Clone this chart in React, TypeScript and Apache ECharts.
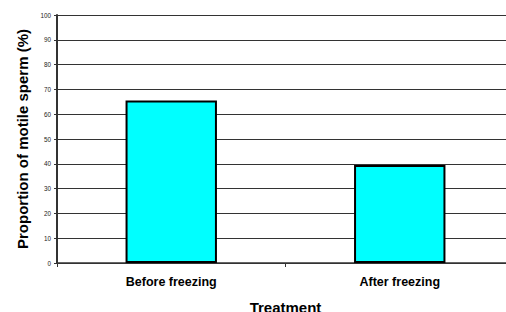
import React, { useEffect, useRef } from "react";
import * as echarts from "echarts";

const categories = ["Before freezing", "After freezing"];
const motileValues = [65.5, 39.5];
const yTicks = [0, 10, 20, 30, 40, 50, 60, 70, 80, 90, 100];

export default function App() {
  const ref = useRef<HTMLDivElement>(null);
  useEffect(() => {
    const chart = echarts.init(ref.current!, null, { renderer: "svg" });
    chart.setOption({
      animation: false,
      textStyle: { fontFamily: "Liberation Sans, Arial, sans-serif" },
      grid: { left: 57, right: -8, top: 15, bottom: 49, containLabel: false, outerBoundsMode: "none" },
      xAxis: {
        type: "category",
        data: categories,
        name: "Treatment",
        nameLocation: "middle",
        nameGap: 37,
        nameTextStyle: { fontSize: 15, fontWeight: "bold", color: "#000" },
        axisLine: { lineStyle: { color: "#333", width: 1.5 } },
        axisTick: { show: true, length: 4, lineStyle: { color: "#333" } },
        axisLabel: { fontSize: 12.5, fontWeight: "bold", color: "#000", margin: 12 },
      },
      yAxis: {
        type: "value",
        min: yTicks[0],
        max: yTicks[yTicks.length - 1],
        interval: 10,
        name: "Proportion of motile sperm (%)",
        nameLocation: "middle",
        nameGap: 27,
        nameTextStyle: { fontSize: 15, fontWeight: "bold", color: "#000" },
        axisLine: { show: true, lineStyle: { color: "#333", width: 2 } },
        axisTick: { show: true, length: 3, lineStyle: { color: "#333" } },
        axisLabel: { fontSize: 6.3, color: "#222", margin: 6 },
        splitLine: { show: true, lineStyle: { color: "#333", width: 1 } },
      },
      series: [
        {
          type: "bar",
          data: motileValues,
          barWidth: "40%",
          itemStyle: { color: "#00FFFF", borderColor: "#000", borderWidth: 2 },
        },
      ],
    });
    return () => chart.dispose();
  }, []);
  return <div ref={ref} style={{ width: 506, height: 312, position: "absolute", left: 0, top: 0 }} />;
}
